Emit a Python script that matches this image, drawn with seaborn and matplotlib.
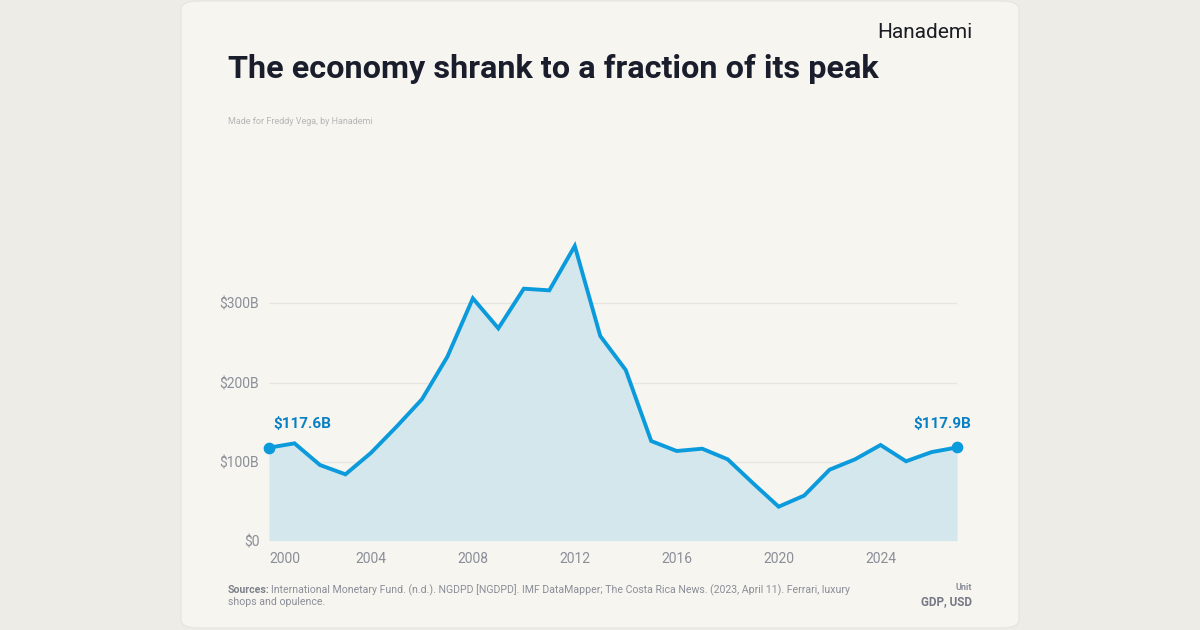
import numpy as np
import pandas as pd
import matplotlib.pyplot as plt
import seaborn as sns
from matplotlib.patches import FancyBboxPatch

# GDP, current USD billions
years = list(range(2000, 2028))
gdp = [117.6, 123.1, 95.7, 83.9, 111.0, 144.0, 178.7, 232.6, 306.4, 268.5,
       318.6, 316.5, 372.6, 258.8, 215.8, 126.0, 113.4, 116.3, 102.9, 72.5,
       43.0, 57.0, 89.8, 102.9, 121.0, 100.4, 112.0, 117.9]
y_ticks = [0, 100, 200, 300]
y_tick_labels = ['$0', '$100B', '$200B', '$300B']
x_ticks = [2000, 2004, 2008, 2012, 2016, 2020, 2024]

df = pd.DataFrame({'year': years, 'gdp': gdp})

sns.set_theme(style='white')
plt.rcParams['font.family'] = ['Roboto', 'DejaVu Sans']

LINE = '#0b9bdc'
LABEL = '#0a7fc2'
FILL = '#d3e7ec'
CARD = '#f7f5f0'
OUTER = '#edece7'
GRAY = '#8a8e98'

W, H = 1200, 630
fig = plt.figure(figsize=(12, 6.3), dpi=100)
fig.patch.set_facecolor(OUTER)

# card
card = FancyBboxPatch((181 / W, 2 / H), 838 / W, 627 / H,
                      boxstyle='round,pad=0,rounding_size=0.014',
                      transform=fig.transFigure, facecolor=CARD,
                      edgecolor='#e6e4de', linewidth=0.8, zorder=-5)
fig.patches.append(card)

ymax = 395
px_per = 0.791
ax_left, ax_right, ax_bottom = 269, 957, 540.7
ax_top = ax_bottom - ymax * px_per
ax = fig.add_axes([ax_left / W, (H - ax_bottom) / H,
                   (ax_right - ax_left) / W, (ax_bottom - ax_top) / H])
ax.set_facecolor('none')
ax.set_zorder(2)

ax.fill_between(df['year'], df['gdp'], 0, color=FILL, linewidth=0, zorder=1)
sns.lineplot(data=df, x='year', y='gdp', color=LINE, linewidth=2.8, ax=ax,
             zorder=3, solid_joinstyle='miter')
ends = df.iloc[[0, -1]]
ax.scatter(ends['year'], ends['gdp'], s=55, color=LINE, zorder=4, clip_on=False)

ax.annotate(f"${gdp[0]:.1f}B", (years[0], gdp[0]), xytext=(3, 12),
            textcoords='offset points', ha='left', va='bottom',
            fontsize=11, fontweight='bold', color=LABEL)
ax.annotate(f"${gdp[-1]:.1f}B", (years[-1], gdp[-1]), xytext=(10, 12),
            textcoords='offset points', ha='right', va='bottom',
            fontsize=11, fontweight='bold', color=LABEL)

ax.set_xlim(years[0], years[-1])
ax.set_ylim(0, ymax)
ax.set_yticks(y_ticks)
ax.set_yticklabels(y_tick_labels)
ax.set_xticks(x_ticks)
ax.set_xticklabels([str(t) for t in x_ticks])
ax.get_xticklabels()[0].set_ha('left')
ax.tick_params(axis='both', length=0, labelsize=10, colors=GRAY)
ax.tick_params(axis='y', pad=7)
ax.tick_params(axis='x', pad=8)
for t in y_ticks[1:]:
    ax.axhline(t, color='#e6e5e0', linewidth=0.9, zorder=0.5)
for s in ax.spines.values():
    s.set_visible(False)
ax.set_xlabel('')
ax.set_ylabel('')

# texts
fig.text(972 / W, 1 - 32 / H, 'Hanademi', ha='right', va='center',
         fontsize=15, color='#1b1d24')
fig.text(228 / W, 1 - 69 / H, 'The economy shrank to a fraction of its peak',
         ha='left', va='center', fontsize=23.3, fontweight='bold', color='#1a1d2b')
fig.text(228 / W, 1 - 121 / H, 'Made for Freddy Vega, by Hanademi',
         ha='left', va='center', fontsize=6.5, color='#b6b6b6')

fig.text(228 / W, 1 - 590 / H, 'Sources:', ha='left', va='center',
         fontsize=7.6, fontweight='bold', color='#7d818b')
fig.text(271 / W, 1 - 590 / H,
         'International Monetary Fund. (n.d.). NGDPD [NGDPD]. IMF DataMapper; '
         'The Costa Rica News. (2023, April 11). Ferrari, luxury',
         ha='left', va='center', fontsize=7.6, color='#8a8e98')
fig.text(228 / W, 1 - 602 / H, 'shops and opulence.', ha='left', va='center',
         fontsize=7.6, color='#8a8e98')
fig.text(972 / W, 1 - 588 / H, 'Unit', ha='right', va='center',
         fontsize=6.5, fontweight='bold', color='#8a8e98')
fig.text(972 / W, 1 - 602 / H, 'GDP, USD', ha='right', va='center',
         fontsize=8.5, fontweight='bold', color='#747884')

fig.savefig('out.png', dpi=100, facecolor=fig.get_facecolor())
